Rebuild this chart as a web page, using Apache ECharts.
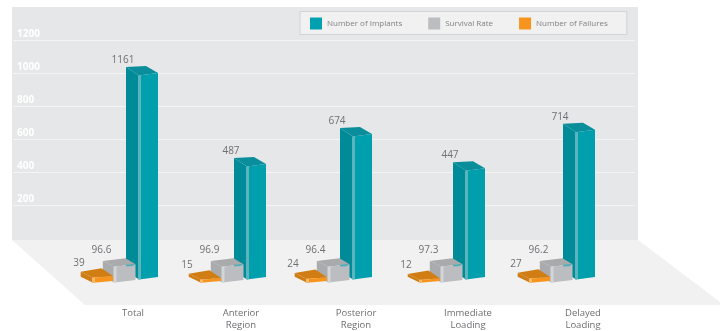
<!DOCTYPE html>
<html><head><meta charset="utf-8">
<style>html,body{margin:0;padding:0;background:#fff}#c{width:720px;height:331px}</style>
<script src="https://cdn.jsdelivr.net/npm/echarts@6/dist/echarts.min.js"></script>
</head><body><div id="c"></div>
<script>
const categories = ['Total', 'Anterior\nRegion', 'Posterior\nRegion', 'Immediate\nLoading', 'Delayed\nLoading'];
const implants = [1161, 487, 674, 447, 714];
const survival = [96.6, 96.9, 96.4, 97.3, 96.2];
const failures = [39, 15, 24, 12, 27];
const wallTicks = { min: 0, max: 1200, interval: 200 };

const FONT = '"Open Sans", "Noto Sans", sans-serif';
const nudge = [0, -1.5, -5, -1.5, -1];
const labelPad = [0, 9, 4, 5, 0];
const lift = [0, 1, -4, 0, -3];

const looks = {
  implants: { shift: 0, w: 19, s: 2.5, dx: 13, dy: 8.5, bx: 12, by: 7, base: -367, lift: true,
    front: '#009fae', side: '#008b99', top: '#0a8e9b', strip: '#5cb4bd', labelDx: -35, labelDy: -13, digits: 0 },
  survival: { shift: -22.5, w: 21, s: 2.4, dx: 11.7, dy: 5.7, bx: 10, by: 6, base: 0,
    front: '#bcbdc0', side: '#aaabad', top: '#a9aaac', strip: '#d4d5d7', labelDx: -34, labelDy: -14, digits: 1 },
  failures: { shift: -45, w: 20, s: 1.7, dx: 12.3, dy: 6, bx: 11.6, by: 7.7, base: -20,
    front: '#f7941d', side: '#cf7d14', top: '#d07e13', strip: '#fbb96b', labelDx: -34, labelDy: -13, digits: 0 }
};

function boxRenderer(look) {
  return function (params, api) {
    const i = api.value(0), v = api.value(1);
    const t = api.coord([i, v]);
    const b = api.coord([i, look.base]);
    const xr = t[0] + nudge[i] + look.shift, xl = xr - look.w;
    const yt = t[1] + (look.lift ? lift[i] : 0), yb = b[1];
    const fl = [xl, yt + look.s], fr = [xr, yt];
    const bl = [xl - look.dx, yt + look.s - look.dy], br = [xr - look.bx, yt - look.by];
    const flb = [xl, yb + look.s], frb = [xr, yb];
    const blb = [xl - look.dx, yb + look.s - look.dy];
    const poly = (pts, fill) => ({ type: 'polygon', shape: { points: pts }, style: { fill: fill }, silent: true });
    const kids = [
      poly([fl, bl, blb, flb], look.side),
      poly([bl, br, fr, fl], look.top),
      poly([fl, fr, frb, flb], look.front),
      poly([[xl - 1, fl[1]], [xl + 2, fl[1] - 0.4], [xl + 2, flb[1] - 0.4], [xl - 1, flb[1]]], look.strip)
    ];
    if (look === looks.survival) {
      kids.push(poly([[xr - 10, yt + 0.5], [xr, yt], [xr - 3, yt + 1.8], [xr - 9, yt + 2.2]], '#4fb0ba'));
    }
    kids.push({
      type: 'text',
      style: {
        text: v.toFixed(look.digits), x: xr + look.labelDx, y: yt + look.labelDy,
        align: 'center', verticalAlign: 'middle', fill: '#6f7073', font: '10px ' + FONT
      }
    });
    return { type: 'group', children: kids };
  };
}

function series(name, values, look, axis, color) {
  return {
    name: name, type: 'custom', xAxisIndex: 1, yAxisIndex: axis, clip: false,
    itemStyle: { color: color },
    encode: { x: 0, y: 1 },
    renderItem: boxRenderer(look),
    data: values.map((v, i) => [i, v])
  };
}

const chart = echarts.init(document.getElementById('c'), null, { renderer: 'canvas' });
const hiddenY = (min, max) => ({ gridIndex: 1, type: 'value', show: false, min: min, max: max, splitLine: { show: false } });

chart.setOption({
  animation: false,
  backgroundColor: '#ffffff',
  textStyle: { fontFamily: FONT },
  graphic: [
    { type: 'rect', z: -10, shape: { x: 12, y: 7, width: 626, height: 233 }, style: { fill: '#e6e7e8' } },
    { type: 'polygon', z: -10, shape: { points: [[12, 240], [638, 240], [720, 302], [720, 305], [85, 305]] }, style: { fill: '#f1f1f2' } }
  ],
  legend: {
    left: 300, top: 11.5, orient: 'horizontal',
    padding: [6, 19, 5, 10], itemGap: 26, itemWidth: 12, itemHeight: 12, icon: 'rect',
    backgroundColor: '#f1f1f2', borderColor: '#d1d3d4', borderWidth: 1,
    textStyle: { color: '#808285', fontSize: 8, fontFamily: FONT },
    selectedMode: false,
    data: ['Number of Implants', 'Survival Rate', 'Number of Failures']
  },
  grid: [
    { left: 13, top: 40, width: 622, height: 198.3 },
    { left: 103.25, top: 40, width: 547.5, height: 244 },
    { left: 76.75, top: 40, width: 562.5, height: 265 }
  ],
  xAxis: [
    { gridIndex: 0, type: 'category', show: false, data: categories },
    { gridIndex: 1, type: 'category', show: false, data: categories },
    { gridIndex: 2, type: 'category',
      data: categories.map((c, i) => ({ value: c, textStyle: { padding: [0, labelPad[i], 0, 0] } })),
      axisLine: { show: false }, axisTick: { show: false },
      axisLabel: { color: '#6d6e71', fontSize: 9.5, lineHeight: 12, margin: 4, interval: 0, fontFamily: FONT } }
  ],
  yAxis: [
    { gridIndex: 0, type: 'value', min: wallTicks.min, max: wallTicks.max, interval: wallTicks.interval,
      axisLine: { show: false }, axisTick: { show: false },
      splitLine: { show: true, showMinLine: false, lineStyle: { color: '#f4f4f5', width: 1 } },
      axisLabel: { inside: true, showMinLabel: false, margin: 4, color: '#ffffff', fontSize: 10, fontWeight: 'bold',
        align: 'left', verticalAlign: 'bottom', padding: [0, 0, 1, 0], fontFamily: FONT,
        formatter: v => String(v) } },
    hiddenY(-419.5, 1408.2),
    hiddenY(-24.6, 1477),
    hiddenY(-55.3, 2815.3),
    { gridIndex: 2, type: 'value', show: false, splitLine: { show: false } }
  ],
  series: [
    series('Number of Implants', implants, looks.implants, 1, '#00a0b0'),
    series('Survival Rate', survival, looks.survival, 2, '#bcbdc0'),
    series('Number of Failures', failures, looks.failures, 3, '#f7941d')
  ]
});
</script></body></html>
